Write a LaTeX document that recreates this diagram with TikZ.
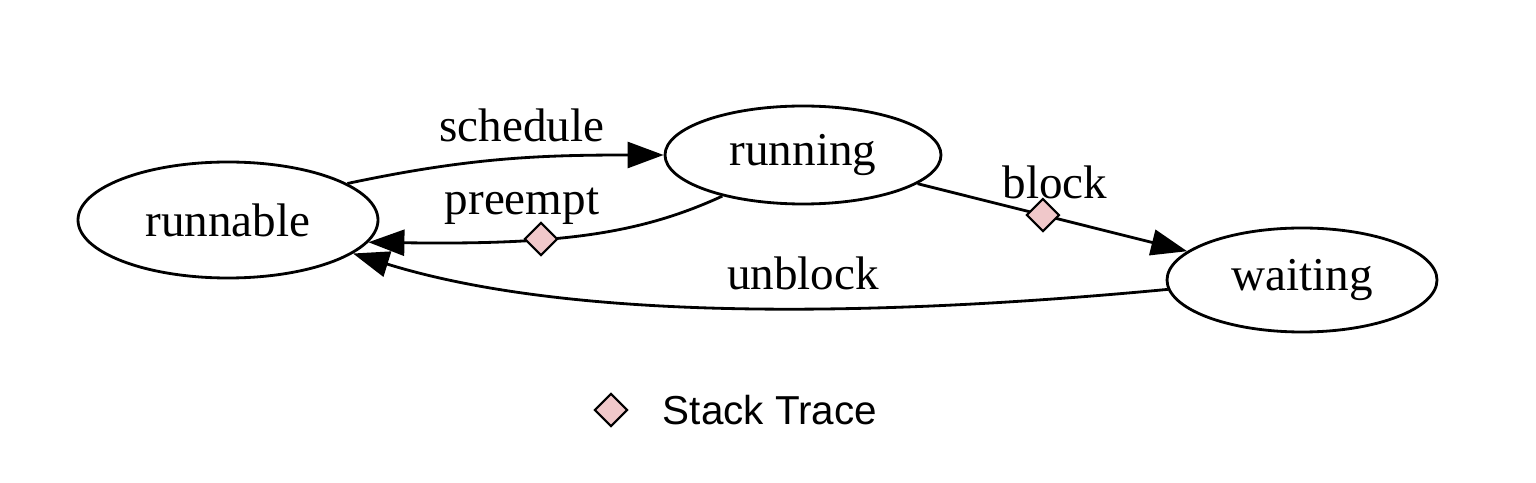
\documentclass[tikz,border=0pt]{standalone}
\usepackage{fontspec}
\setmainfont{Liberation Serif}
\newfontfamily\legendfont{Liberation Sans}
\usepackage{xcolor}
\usepackage{tikz}
\usetikzlibrary{shapes.geometric, arrows.meta, positioning}

\definecolor{tracepink}{RGB}{240,200,202}

\begin{document}
\begin{tikzpicture}[
  >={Triangle[length=3.6mm, width=2.6mm]},
  state/.style={ellipse, draw, line width=0.8pt, inner sep=0pt, font=\fontsize{13.4}{16}\selectfont},
  edge/.style={->, line width=0.8pt},
  elabel/.style={font=\fontsize{13.4}{16}\selectfont, inner sep=2pt},
  trace/.style={diamond, draw, fill=tracepink, line width=0.6pt, minimum size=3.3mm, inner sep=0pt},
]
  \useasboundingbox (0,0) rectangle (15.36,4.82);

  \node[state, minimum width=3.0cm, minimum height=1.16cm] (runnable) at (2.28,2.62) {runnable};
  \node[state, minimum width=2.76cm, minimum height=0.98cm] (running) at (8.03,3.27) {running};
  \node[state, minimum width=2.70cm, minimum height=1.04cm] (waiting) at (13.02,2.02) {waiting};

  % transitions
  \draw[edge] (runnable.17) to[out=12, in=180] (running.west);
  \node[elabel] (l-schedule) at (5.22,3.57) {schedule};

  \draw[edge] (running.207) .. controls (6.40,2.48) and (5.60,2.37) ..
    node[pos=0.63, trace] (st-preempt) {} (runnable.-9);
  \node[elabel] (l-preempt) at (5.22,2.76) {preempt};

  \draw[edge] (running) -- node[pos=0.465, trace] (st-block) {} (waiting);
  \node[elabel] (l-block) at (10.55,3.0) {block};

  \draw[edge] (waiting.184) .. controls (9.50,1.72) and (6.00,1.52) .. (runnable.-15);
  \node[elabel] (l-unblock) at (8.03,2.09) {unblock};

  % legend
  \node[trace] (legend-mark) at (6.11,0.72) {};
  \node[right=0.22cm of legend-mark, font=\legendfont\fontsize{11.5}{14}\selectfont] (legend-text) {Stack Trace};
\end{tikzpicture}
\end{document}
